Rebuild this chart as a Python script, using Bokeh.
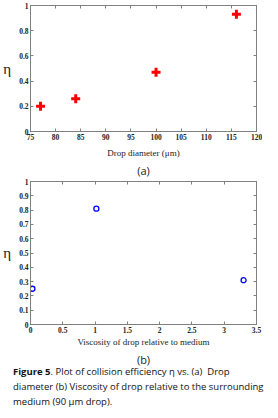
from bokeh.plotting import figure
from bokeh.models import Range1d, FixedTicker, LinearAxis, Title, Div
from bokeh.layouts import column
from bokeh.embed import file_html
from bokeh.resources import INLINE

# (a) collision efficiency vs drop diameter
diam_um = [77, 84, 100, 116]
eta_a = [0.20, 0.26, 0.47, 0.93]
xticks_a = [75, 80, 85, 90, 95, 100, 105, 110, 115, 120]
xlabels_a = ["75", "80", "85", "90", "95", "100", "105", "110", "115", "120"]
yticks_a = [0, 0.2, 0.4, 0.6, 0.8, 1.0]
ylabels_a = ["0", "0.2", "0.4", "0.6", "0.8", "1"]

# (b) collision efficiency vs viscosity ratio
visc_ratio = [0.03, 1.02, 3.3]
eta_b = [0.25, 0.81, 0.31]
xticks_b = [0, 0.5, 1, 1.5, 2, 2.5, 3, 3.5]
xlabels_b = ["0", "0.5", "1", "1.5", "2", "2.5", "3", "3.5"]
yticks_b = [0, 0.1, 0.2, 0.3, 0.4, 0.5, 0.6, 0.7, 0.8, 0.9, 1.0]
ylabels_b = ["0", "0.1", "0.2", "0.3", "0.4", "0.5", "0.6", "0.7", "0.8", "0.9", "1"]

AX = "#808080"
TICKFONT = "Liberation Serif"


def style_axis(ax, ticks, labels, show_labels=True):
    ax.ticker = FixedTicker(ticks=ticks)
    ax.major_label_overrides = {t: (l if show_labels else "") for t, l in zip(ticks, labels)}
    ax.major_tick_in = 3
    ax.major_tick_out = 0
    ax.minor_tick_in = 0
    ax.minor_tick_out = 0
    ax.axis_line_color = AX
    ax.major_tick_line_color = AX
    ax.major_label_text_font = TICKFONT
    ax.major_label_text_font_style = "bold"
    ax.major_label_text_font_size = "7.5px" if show_labels else "0px"
    ax.major_label_text_color = "#222222"
    ax.major_label_standoff = 2


def make_fig(xr, yr, xt, xl, yt, yl, xlabel, sub, height, top, xstand):
    p = figure(width=262, height=height, output_backend="svg", toolbar_location=None,
               x_range=Range1d(*xr), y_range=Range1d(*yr),
               min_border_left=30, min_border_right=6, min_border_top=top,
               min_border_bottom=0, x_axis_type=None, y_axis_type=None)
    p.xgrid.visible = False
    p.ygrid.visible = False
    p.outline_line_color = AX
    p.background_fill_color = "white"
    p.border_fill_color = "white"
    bx = LinearAxis()
    style_axis(bx, xt, xl)
    bx.axis_label = xlabel
    bx.axis_label_text_font = TICKFONT
    bx.axis_label_text_font_style = "normal"
    bx.axis_label_text_font_size = "9px"
    bx.axis_label_text_color = "#222222"
    bx.axis_label_standoff = xstand
    p.add_layout(bx, "below")
    ly = LinearAxis()
    style_axis(ly, yt, yl)
    ly.axis_label = "η"
    ly.axis_label_orientation = "horizontal"
    ly.axis_label_text_font = TICKFONT
    ly.axis_label_text_font_style = "normal"
    ly.axis_label_text_font_size = "15px"
    ly.axis_label_text_color = "#222222"
    ly.axis_label_standoff = 5
    p.add_layout(ly, "left")
    tx = LinearAxis()
    style_axis(tx, xt, xl, show_labels=False)
    p.add_layout(tx, "above")
    ry = LinearAxis()
    style_axis(ry, yt, yl, show_labels=False)
    p.add_layout(ry, "right")
    p.add_layout(Title(text=sub, align="center", text_font="Open Sans",
                       text_font_size="11px", text_font_style="normal",
                       text_color="#222222", standoff=0, offset=0), "below")
    return p


pa = make_fig((75, 120), (0, 1), xticks_a, xlabels_a, yticks_a, ylabels_a,
              "Drop diameter (μm)", "(a)", 177, 5, 5)
pa.scatter(diam_um, eta_a, marker="cross", size=9, line_width=3, color="#ff0000")

pb = make_fig((0, 3.5), (0, 1), xticks_b, xlabels_b, yticks_b, ylabels_b,
              "Viscosity of drop relative to medium", "(b)", 189, 4, 1)
pb.scatter(visc_ratio, eta_b, marker="circle", size=5, line_width=1.3,
           line_color="#0000ff", fill_color=None)

cap = Div(text='<div style="font-family:\'Open Sans\';font-size:9.5px;line-height:15px;'
               'color:#111;padding-left:13px;white-space:nowrap;margin-top:-2px;">'
               '<b>Figure 5</b>. Plot of collision efficiency η vs. (a)&nbsp; Drop<br>'
               'diameter (b) Viscosity of drop relative to the surrounding<br>'
               'medium (90 μm drop).</div>', width=262, margin=(0, 0, 0, 0))

layout = column(pa, pb, cap, spacing=0)
open("out.html", "w").write(file_html(layout, INLINE))
